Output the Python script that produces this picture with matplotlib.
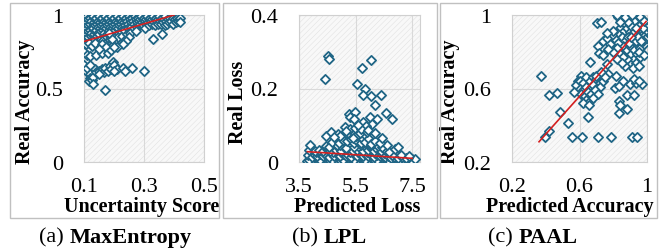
import matplotlib
matplotlib.use("Agg")
import matplotlib.pyplot as plt
from matplotlib.patches import Rectangle
import numpy as np

plt.rcParams['font.family'] = ['Liberation Serif', 'DejaVu Serif']
plt.rcParams['hatch.linewidth'] = 0.4

# ---------------- data ----------------
# (a) MaxEntropy: uncertainty score vs real accuracy
me_pts = [
    (0.100,0.98),(0.100,0.94),(0.100,0.90),(0.100,0.86),(0.100,0.82),(0.102,0.96),(0.102,0.92),(0.102,0.88),(0.102,0.84),
    (0.110,0.99),(0.110,0.95),(0.110,0.91),(0.110,0.87),(0.110,0.83),(0.112,0.97),(0.112,0.93),(0.112,0.89),(0.112,0.85),
    (0.120,0.98),(0.121,0.94),(0.120,0.90),(0.122,0.86),(0.124,0.96),(0.125,0.92),(0.123,0.88),(0.126,0.83),
    (0.130,0.99),(0.132,0.95),(0.131,0.91),(0.133,0.87),(0.135,0.97),(0.136,0.93),(0.137,0.89),(0.134,0.84),
    (0.140,0.98),(0.142,0.94),(0.141,0.90),(0.143,0.86),(0.146,0.96),(0.147,0.92),(0.148,0.88),(0.145,0.82),
    (0.150,0.99),(0.152,0.95),(0.153,0.91),(0.151,0.87),(0.156,0.97),(0.157,0.93),(0.158,0.89),(0.155,0.84),(0.154,0.80),
    (0.160,0.98),(0.162,0.94),(0.163,0.90),(0.165,0.86),(0.166,0.96),(0.167,0.92),(0.168,0.88),(0.164,0.83),
    (0.170,0.99),(0.172,0.95),(0.173,0.91),(0.175,0.87),(0.176,0.97),(0.177,0.93),(0.178,0.85),(0.174,0.81),
    (0.180,0.98),(0.182,0.94),(0.183,0.90),(0.185,0.86),(0.186,0.96),(0.187,0.92),(0.188,0.83),(0.184,0.79),
    (0.190,0.99),(0.192,0.95),(0.193,0.91),(0.195,0.87),(0.196,0.97),(0.197,0.93),(0.198,0.82),(0.194,0.79),
    (0.200,0.98),(0.202,0.94),(0.203,0.90),(0.205,0.86),(0.206,0.96),(0.207,0.92),(0.208,0.84),
    (0.210,0.99),(0.212,0.95),(0.214,0.91),(0.216,0.97),(0.218,0.93),(0.215,0.88),(0.213,0.85),
    (0.220,0.98),(0.223,0.94),(0.225,0.96),(0.227,0.92),(0.224,0.89),(0.228,0.86),
    (0.230,0.99),(0.233,0.95),(0.235,0.97),(0.237,0.93),(0.234,0.90),(0.238,0.83),
    (0.240,0.98),(0.243,0.96),(0.246,0.94),(0.248,0.91),(0.242,0.87),
    (0.250,0.99),(0.253,0.97),(0.256,0.95),(0.258,0.92),(0.252,0.88),
    (0.260,0.98),(0.263,0.96),(0.266,0.94),(0.268,0.91),
    (0.270,0.99),(0.273,0.97),(0.276,0.95),(0.278,0.92),(0.272,0.89),
    (0.280,0.98),(0.283,0.96),(0.286,0.94),(0.288,0.97),
    (0.290,0.99),(0.293,0.95),(0.296,0.97),(0.298,0.93),
    (0.300,0.98),(0.303,0.96),(0.306,0.94),(0.308,0.97),(0.302,0.91),
    (0.310,0.99),(0.313,0.95),(0.316,0.97),(0.318,0.93),
    (0.320,0.98),(0.323,0.96),(0.326,0.94),(0.328,0.97),
    (0.330,0.99),(0.333,0.95),(0.336,0.97),(0.338,0.93),
    (0.340,0.98),(0.343,0.96),(0.346,0.94),(0.348,0.97),
    (0.350,0.99),(0.353,0.96),(0.356,0.94),(0.358,0.97),
    (0.360,0.98),(0.363,0.95),(0.366,0.97),(0.369,0.93),
    (0.371,0.99),(0.374,0.96),(0.377,0.94),
    (0.381,0.97),(0.384,0.95),(0.388,0.98),
    (0.391,0.96),(0.395,0.98),(0.398,0.94),
    (0.402,0.97),(0.406,0.95),(0.410,0.98),
    (0.414,0.96),(0.418,0.97),(0.421,0.98),(0.420,0.95),
    (0.360,0.87),(0.330,0.84),(0.250,0.85),(0.240,0.82),(0.230,0.80),(0.210,0.78),
    (0.105,0.80),(0.118,0.81),(0.128,0.79),(0.138,0.81),(0.160,0.80),(0.172,0.78),(0.192,0.84),(0.182,0.88),
    (0.100,0.75),(0.110,0.73),(0.120,0.72),(0.140,0.73),(0.160,0.74),(0.180,0.74),(0.190,0.76),(0.200,0.78),(0.150,0.77),
    (0.100,0.66),(0.105,0.62),(0.110,0.64),(0.120,0.60),(0.120,0.57),(0.115,0.55),(0.125,0.56),(0.130,0.58),
    (0.135,0.63),(0.140,0.61),(0.150,0.62),(0.160,0.63),(0.165,0.61),(0.170,0.64),(0.180,0.62),(0.185,0.65),
    (0.190,0.63),(0.195,0.68),(0.200,0.66),(0.210,0.63),(0.230,0.64),(0.235,0.62),(0.260,0.64),(0.300,0.62),
    (0.130,0.53),(0.170,0.49),(0.150,0.60),(0.120,0.66),(0.200,0.62),
]
me_x = [p[0] for p in me_pts]
me_y = [p[1] for p in me_pts]
me_fit_x = [0.10, 0.40]
me_fit_y = [0.82, 1.00]

# (b) LPL: predicted loss vs real loss
lpl_pts = [
    # bottom layer
    (3.80,0.003),(3.90,0.009),(4.00,0.002),(4.10,0.007),(4.20,0.003),(4.30,0.010),(4.40,0.002),(4.50,0.006),
    (4.60,0.003),(4.70,0.009),(4.80,0.002),(4.90,0.007),(5.00,0.003),(5.10,0.010),(5.20,0.002),(5.30,0.006),
    (5.40,0.003),(5.50,0.009),(5.60,0.002),(5.70,0.007),(5.80,0.003),(5.90,0.010),(6.00,0.002),(6.10,0.006),
    (6.20,0.003),(6.30,0.008),(6.40,0.002),(6.50,0.006),(6.60,0.003),(6.70,0.007),(6.80,0.002),(6.90,0.006),
    (7.00,0.003),(7.10,0.007),(7.20,0.004),(7.30,0.008),(7.40,0.005),(7.50,0.008),(7.55,0.006),
    (3.85,0.006),(4.25,0.005),(4.65,0.006),(5.05,0.005),(5.45,0.006),(5.85,0.005),(6.25,0.006),(6.65,0.005),
    (7.05,0.006),(7.45,0.004),(7.60,0.009),(7.35,0.010),
    # second layer
    (3.82,0.018),(3.95,0.014),(4.05,0.020),(4.15,0.015),(4.25,0.022),(4.35,0.016),(4.45,0.020),(4.55,0.014),
    (4.65,0.022),(4.75,0.017),(4.85,0.021),(4.95,0.015),(5.05,0.023),(5.15,0.016),(5.25,0.020),(5.35,0.014),
    (5.45,0.022),(5.55,0.017),(5.65,0.021),(5.75,0.015),(5.85,0.023),(5.95,0.016),(6.05,0.020),(6.15,0.014),
    (6.25,0.019),(6.35,0.015),(6.45,0.018),(6.55,0.013),(6.65,0.016),(6.75,0.012),(6.85,0.014),(7.00,0.012),
    (7.15,0.013),(7.30,0.012),
    (4.10,0.026),(4.40,0.025),(4.70,0.027),(5.00,0.026),(5.30,0.027),(5.60,0.026),(5.90,0.027),(6.20,0.025),
    (6.50,0.024),(6.80,0.020),(7.10,0.018),(7.40,0.015),
    # third layer
    (3.85,0.032),(3.90,0.045),(4.05,0.030),(4.20,0.034),(4.35,0.029),(4.50,0.036),(4.60,0.031),(4.70,0.040),
    (4.80,0.033),(4.90,0.038),(5.00,0.030),(5.10,0.042),(5.20,0.035),(5.30,0.040),(5.40,0.031),(5.50,0.044),
    (5.55,0.034),(5.65,0.039),(5.75,0.030),(5.85,0.043),(5.95,0.033),(6.05,0.038),(6.15,0.029),(6.25,0.036),
    (6.40,0.030),(6.55,0.034),(6.70,0.028),(6.90,0.036),(6.30,0.044),(4.45,0.044),(4.95,0.046),(5.25,0.048),
    (4.55,0.040),(4.85,0.045),(5.15,0.038),(5.45,0.040),(5.70,0.046),(6.00,0.045),(6.45,0.040),(6.60,0.046),
    # fourth layer
    (4.65,0.055),(4.90,0.052),(5.05,0.060),(5.20,0.056),(5.35,0.063),(5.45,0.053),(5.55,0.058),(5.62,0.068),
    (5.70,0.052),(5.78,0.062),(5.85,0.055),(5.95,0.065),(6.05,0.050),(6.20,0.058),(6.35,0.053),(5.50,0.072),
    (5.80,0.075),(5.65,0.080),(5.90,0.082),(5.40,0.066),
    # upper scatter
    (4.54,0.288),(4.55,0.280),(4.42,0.226),(6.06,0.277),(5.74,0.256),(5.55,0.212),(5.84,0.200),
    (5.75,0.183),(6.05,0.180),(6.39,0.183),(6.19,0.155),(6.57,0.133),(6.78,0.117),
    (5.27,0.130),(5.48,0.136),(5.30,0.122),(5.45,0.117),(5.77,0.110),(6.00,0.122),(6.26,0.117),
    (6.08,0.103),(5.87,0.098),(4.44,0.072),(4.62,0.081),(4.88,0.076),(4.95,0.071),(5.13,0.095),
    (5.30,0.090),(5.48,0.093),(5.70,0.090),(5.95,0.088),(6.20,0.078),(6.45,0.065),(7.00,0.040),
    (5.60,0.100),(5.15,0.085),(4.75,0.068),
]
lpl_x = [p[0] for p in lpl_pts]
lpl_y = [p[1] for p in lpl_pts]
lpl_fit_x = [3.80, 7.50]
lpl_fit_y = [0.028, 0.010]

# (c) PAAL: predicted accuracy vs real accuracy
paal_pts = [
    # dense top-right cluster
    (0.830,0.99),(0.850,0.97),(0.870,0.95),(0.890,0.98),(0.910,0.96),(0.930,0.99),(0.950,0.97),(0.970,0.98),
    (0.940,1.00),(0.960,0.99),(0.980,0.96),(0.990,0.94),(0.840,0.93),(0.860,0.91),(0.880,0.93),(0.900,0.91),
    (0.920,0.93),(0.940,0.95),(0.960,0.93),(0.980,0.91),(0.850,0.88),(0.870,0.86),(0.890,0.88),(0.910,0.86),
    (0.930,0.89),(0.950,0.87),(0.970,0.89),(0.990,0.87),(0.860,0.83),(0.880,0.81),(0.900,0.83),(0.920,0.81),
    (0.940,0.84),(0.960,0.82),(0.980,0.84),(0.900,0.78),(0.920,0.76),(0.940,0.79),(0.960,0.77),(0.880,0.76),
    (0.950,0.91),(0.925,0.97),(0.905,0.94),(0.885,0.96),(0.965,0.95),(0.945,0.92),(0.915,0.89),(0.895,0.85),
    (0.935,0.86),(0.975,0.86),(0.955,0.80),(0.935,0.74),(0.915,0.71),(0.955,0.72),(0.980,0.78),(0.820,0.90),
    (0.800,0.91),(0.810,0.87),(0.830,0.85),(0.790,0.89),(0.780,0.84),(0.820,0.82),(0.840,0.79),(0.860,0.77),
    (0.800,0.80),(0.840,0.96),(0.870,0.99),(0.910,1.00),(0.820,0.76),(0.870,0.72),(0.850,0.74),
    (0.925,0.91),(0.945,0.88),(0.965,0.86),(0.905,0.88),(0.955,0.94),(0.975,0.93),(0.985,0.97),(0.935,0.93),
    # scattered upper
    (0.822,1.00),(0.704,0.954),(0.730,0.963),(0.662,0.746),(0.710,0.832),(0.740,0.860),(0.765,0.877),
    (0.713,0.793),(0.770,0.814),(0.800,0.914),(0.760,0.731),(0.770,0.677),(0.818,0.667),(0.610,0.667),
    (0.590,0.640),(0.740,0.780),(0.760,0.900),
    # middle cluster
    (0.580,0.62),(0.600,0.64),(0.620,0.63),(0.640,0.66),(0.660,0.64),(0.680,0.66),(0.700,0.65),(0.720,0.63),
    (0.600,0.60),(0.620,0.59),(0.640,0.61),(0.660,0.60),(0.680,0.62),(0.700,0.60),(0.720,0.61),(0.740,0.64),
    (0.610,0.57),(0.630,0.56),(0.650,0.58),(0.670,0.57),(0.690,0.59),(0.710,0.57),(0.640,0.54),(0.660,0.53),
    (0.680,0.55),(0.620,0.52),(0.700,0.67),(0.730,0.69),(0.750,0.66),(0.570,0.58),
    # right-middle
    (0.834,0.530),(0.834,0.467),(0.880,0.489),(0.880,0.567),(0.920,0.567),(0.810,0.604),(0.834,0.613),
    (0.900,0.622),(0.937,0.631),(0.968,0.622),(0.840,0.510),(0.920,0.650),(0.950,0.640),(0.860,0.640),
    # scattered low
    (0.556,0.337),(0.615,0.337),(0.710,0.337),(0.787,0.337),(0.910,0.337),(0.943,0.337),
    (0.397,0.337),(0.420,0.366),(0.484,0.474),(0.532,0.410),(0.420,0.562),(0.469,0.574),
    (0.650,0.443),(0.656,0.508),(0.374,0.667),
]
paal_x = [p[0] for p in paal_pts]
paal_y = [p[1] for p in paal_pts]
paal_fit_x = [0.36, 0.995]
paal_fit_y = [0.31, 0.965]

# ---------------- figure ----------------
W, H = 662, 251
fig = plt.figure(figsize=(W / 100, H / 100), dpi=100)

def fr(x0, y0, x1, y1):
    # pixel box (top-left origin) -> figure fraction [l, b, w, h]
    return [x0 / W, 1 - y1 / H, (x1 - x0) / W, (y1 - y0) / H]

# panel frames
for (x0, x1) in [(10, 219), (223, 437), (440, 657)]:
    fig.add_artist(Rectangle((x0 / W, 1 - 219 / H), (x1 - x0) / W, (219 - 4) / H,
                             transform=fig.transFigure, fill=False,
                             edgecolor='#c0c0c0', lw=1.0))

mcol = '#1f6585'
tick_fs = 16
lab_fs = 14.5
msize = 22
mlw = 1.3

def style(ax, xlim, ylim, xt, yt, xtl, ytl, xlabel, ylabel, xlab_px, ylab_px):
    ax.set_facecolor('#f8f8f8')
    ax.add_patch(Rectangle((0, 0), 1, 1, transform=ax.transAxes, fill=False,
                           hatch='//////', edgecolor='#e2e2e2', lw=0, zorder=0))
    ax.set_xlim(*xlim)
    ax.set_ylim(*ylim)
    ax.set_xticks(xt)
    ax.set_yticks(yt)
    ax.set_xticklabels(xtl, fontsize=tick_fs)
    ax.set_yticklabels(ytl, fontsize=tick_fs)
    ax.tick_params(length=0, pad=11)
    ax.tick_params(axis='y', pad=15)
    ax.grid(True, color='#d9d9d9', lw=0.8, zorder=1)
    ax.set_axisbelow(True)
    for s in ax.spines.values():
        s.set_color('#d0d0d0')
        s.set_linewidth(0.8)
    bb = ax.get_position()
    ax.set_xlabel(xlabel, fontsize=lab_fs, fontweight='bold')
    ax.xaxis.set_label_coords((xlab_px / W - bb.x0) / bb.width, -0.3)
    ax.xaxis.label.set_va('center')
    ax.set_ylabel(ylabel, fontsize=lab_fs, fontweight='bold')
    ax.yaxis.set_label_coords((ylab_px / W - bb.x0) / bb.width, (163 - 102) / 147)
    ax.yaxis.label.set_va('center')
    ax.yaxis.label.set_ha('center')

# (a)
ax1 = fig.add_axes(fr(84, 16, 204, 163))
ax1.scatter(me_x, me_y, marker='D', s=msize, facecolors='white', edgecolors=mcol, linewidths=mlw, zorder=3)
ax1.plot(me_fit_x, me_fit_y, color='#d42020', lw=1.2, zorder=4)
style(ax1, (0.1, 0.5), (0, 1), [0.1, 0.3, 0.5], [0, 0.5, 1],
      ['0.1', '0.3', '0.5'], ['0', '0.5', '1'], 'Uncertainty Score', 'Real Accuracy', 142, 25)

# (b)
ax2 = fig.add_axes(fr(299, 16, 420, 163))
ax2.scatter(lpl_x, lpl_y, marker='D', s=msize, facecolors='white', edgecolors=mcol, linewidths=mlw, zorder=3)
ax2.plot(lpl_fit_x, lpl_fit_y, color='#d42020', lw=1.2, zorder=4)
style(ax2, (3.5, 7.78), (0, 0.4), [3.5, 5.5, 7.5], [0, 0.2, 0.4],
      ['3.5', '5.5', '7.5'], ['0', '0.2', '0.4'], 'Predicted Loss', 'Real Loss', 357, 238)

# (c)
ax3 = fig.add_axes(fr(512, 16, 647, 163))
ax3.scatter(paal_x, paal_y, marker='D', s=msize, facecolors='white', edgecolors=mcol, linewidths=mlw, zorder=3)
ax3.plot(paal_fit_x, paal_fit_y, color='#d42020', lw=1.2, zorder=4)
style(ax3, (0.2, 1.0), (0.2, 1.0), [0.2, 0.6, 1.0], [0.2, 0.6, 1.0],
      ['0.2', '0.6', '1'], ['0.2', '0.6', '1'], 'Predicted Accuracy', 'Real Accuracy', 570, 450)

# captions
cap_fs = 16
for cx, pre, name in [(115, '(a) ', 'MaxEntropy'), (329, '(b) ', 'LPL'), (533, '(c) ', 'PAAL')]:
    t1 = fig.text(0, 1 - 238 / H, pre, fontsize=cap_fs, va='center', ha='left')
    t2 = fig.text(0, 1 - 238 / H, name, fontsize=cap_fs, va='center', ha='left', fontweight='bold')
    r = fig.canvas.get_renderer()
    w1 = t1.get_window_extent(r).width
    w2 = t2.get_window_extent(r).width
    start = cx - (w1 + w2) / 2
    t1.set_x(start / W)
    t2.set_x((start + w1) / W)

fig.savefig('out.png', dpi=100)
